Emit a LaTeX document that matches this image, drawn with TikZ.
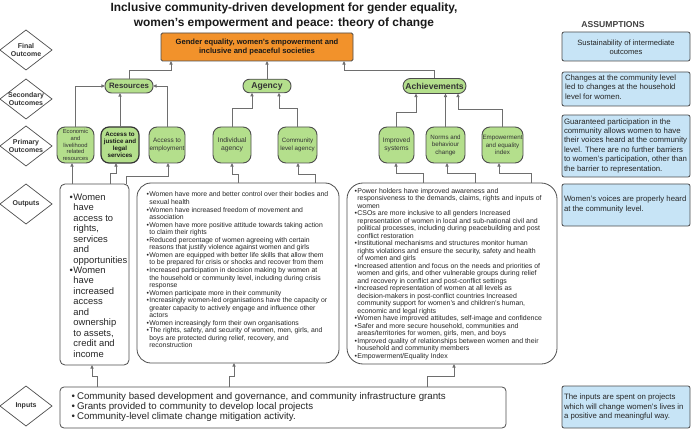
\documentclass[tikz,border=0pt]{standalone}
\usepackage{fontspec}
\setmainfont{Liberation Sans}
\usetikzlibrary{shapes.geometric,arrows.meta}
\definecolor{orangeF}{HTML}{F2922B}
\definecolor{greenF}{HTML}{B4DF8C}
\definecolor{blueF}{HTML}{C7E4F6}
\definecolor{edgeC}{HTML}{4D4D4D}
\definecolor{lineC}{HTML}{6E6E6E}
\definecolor{txtC}{HTML}{333333}
\newcommand\myb{\makebox[0.42em][l]{•}}
\newcommand\myc{\hspace*{0.42em}}
\newcommand\fs[2]{\fontsize{#1}{#2}\selectfont}
\begin{document}
\begin{tikzpicture}[x=1pt,y=-1pt,
  every node/.style={inner sep=0pt, outer sep=0pt},
  sz/.style 2 args={minimum width=#1pt, minimum height=#2pt},
  dia/.style={diamond, draw=edgeC, line width=0.7pt, fill=white, minimum width=52pt, minimum height=40pt, inner sep=0pt},
  dlab/.style={font=\bfseries\fs{7}{8.4}, text=txtC, align=center},
  pill/.style={draw=edgeC, line width=0.9pt, fill=greenF, rounded corners=6.5pt, font=\bfseries\fs{8.6}{10}, text=txtC},
  prim/.style={draw=edgeC, line width=0.9pt, fill=greenF, rounded corners=8pt, align=center, text=txtC},
  outbox/.style={draw=edgeC, line width=0.8pt, fill=white},
  bluebox/.style={draw=edgeC, line width=0.8pt, fill=blueF, rounded corners=2pt},
  btxt/.style={font=\fs{7.8}{9.4}, text=black!85, align=left},
  otxt/.style={anchor=west, align=left, text=black!85},
  arr/.style={draw=lineC, line width=0.8pt, -{Triangle[length=3.6pt,width=3.2pt]}}
]
\useasboundingbox (0,0) rectangle (692,430);

% title
\node[font=\bfseries\fs{11.9}{15.5}, text=black!90, align=center] (title) at (284,16) {Inclusive community-driven development for gender equality,\\women’s empowerment and peace: theory of change};
\node[font=\bfseries\fs{8.6}{10}, text=black!75] (asm) at (613,25) {ASSUMPTIONS};

% diamonds
\node[dia] (dfo) at (26,50) {}; \node[dlab] (lfo) at (dfo) {Final\\Outcome};
\node[dia] (dso) at (26,99) {}; \node[dlab] (lso) at (dso) {Secondary\\Outcomes};
\node[dia] (dpo) at (26,146) {}; \node[dlab] (lpo) at (dpo) {Primary\\Outcomes};
\node[dia] (dop) at (26,204) {}; \node[dlab] (lop) at (dop) {Outputs};
\node[dia] (din) at (26,406) {}; \node[dlab] (lin) at (din) {Inputs};

% final outcome
\node[draw=edgeC, line width=0.9pt, fill=orangeF, rounded corners=1.5pt, sz={192}{28}, align=center, font=\bfseries\fs{7.6}{8.4}, text=black!90] (goal) at (257,47) {Gender equality, women’s empowerment and\\inclusive and peaceful societies};

% secondary
\node[pill, sz={48}{14}, font=\bfseries\fs{7.8}{9}] (res) at (129,86) {Resources};
\node[pill, sz={48}{13.5}] (agc) at (267,86) {Agency};
\node[pill, sz={63}{15}, rounded corners=7.5pt] (ach) at (434.5,86) {Achievements};

% primary
\node[prim, sz={37}{36}, font=\fs{5.8}{6.8}] (econ) at (75.5,145) {Economic\\and\\livelihood\\related\\resources};
\node[prim, sz={38}{36}, font=\bfseries\fs{6.2}{7.2}, text=black!90, line width=1.2pt, draw=black!80] (just) at (120,145) {Access to\\justice and\\legal\\services};
\node[prim, sz={36}{36}, font=\fs{6.4}{7.8}] (empl) at (167,145) {Access to\\employment};
\node[prim, sz={38}{36}, font=\fs{6.8}{8.2}] (indv) at (232,145) {Individual\\agency};
\node[prim, sz={39}{36}, font=\fs{6.2}{7.6}] (comm) at (297.5,145) {Community\\level agency};
\node[prim, sz={35}{36}, font=\fs{6.6}{8}] (imps) at (396.5,145) {Improved\\systems};
\node[prim, sz={39}{36}, font=\fs{6.2}{7.4}] (norm) at (445.5,145) {Norms and\\behaviour\\change};
\node[prim, sz={41}{36}, font=\fs{6.2}{7.4}] (empw) at (502.5,145) {Empowerment\\and equality\\index};

% outputs
\node[outbox, rounded corners=5pt, sz={69}{181}] (out1) at (94.5,274.5) {};
\node[outbox, rounded corners=14pt, sz={202}{180}] (out2) at (238,273) {};
\node[outbox, rounded corners=16pt, sz={210}{181}] (out3) at (452,273.5) {};
\node[outbox, rounded corners=4pt, sz={446}{41}] (inp) at (283,407.5) {};

\node[otxt, font=\fs{9.4}{10.45}] (t1) at (69.5,275.5) {\myb Women\\\myc have\\\myc access to\\\myc rights,\\\myc services\\\myc and\\\myc opportunities\\\myb Women\\\myc have\\\myc increased\\\myc access\\\myc and\\\myc ownership\\\myc to assets,\\\myc credit and\\\myc income};

\node[otxt, font=\fs{6.85}{7.55}] (t2) at (146.5,270) {\myb Women have more and better control over their bodies and\\\myc sexual health\\\myb Women have increased freedom of movement and\\\myc association\\\myb Women have more positive attitude towards taking action\\\myc to claim their rights\\\myb Reduced percentage of women agreeing with certain\\\myc reasons that justify violence against women and girls\\\myb Women are equipped with better life skills that allow them\\\myc to be prepared for crisis or shocks and recover from them\\\myb Increased participation in decision making by women at\\\myc the household or community level, including during crisis\\\myc response\\\myb Women participate more in their community\\\myb Increasingly women-led organisations have the capacity or\\\myc greater capacity to actively engage and influence other\\\myc actors\\\myb Women increasingly form their own organisations\\\myb The rights, safety, and security of women, men, girls, and\\\myc boys are protected during relief, recovery, and\\\myc reconstruction};

\node[otxt, font=\fs{6.95}{7.5}] (t3) at (354.5,274) {\myb Power holders have improved awareness and\\\myc responsiveness to the demands, claims, rights and inputs of\\\myc women\\\myb CSOs are more inclusive to all genders Increased\\\myc representation of women in local and sub-national civil and\\\myc political processes, including during peacebuilding and post\\\myc conflict restoration\\\myb Institutional mechanisms and structures monitor human\\\myc rights violations and ensure the security, safety and health\\\myc of women and girls\\\myb Increased attention and focus on the needs and priorities of\\\myc women and girls, and other vulnerable groups during relief\\\myc and recovery in conflict and post-conflict settings\\\myb Increased representation of women at all levels as\\\myc decision-makers in post-conflict countries Increased\\\myc community support for women’s and children’s human,\\\myc economic and legal rights\\\myb Women have improved attitudes, self-image and confidence\\\myb Safer and more secure household, communities and\\\myc areas/territories for women, girls, men, and boys\\\myb Improved quality of relationships between women and their\\\myc household and community members\\\myb Empowerment/Equality Index};

\node[otxt, font=\fs{9.7}{10}] (t4) at (71.5,406.5) {\myb\hspace{0.15em}Community based development and governance, and community infrastructure grants\\\myb\hspace{0.15em}Grants provided to community to develop local projects\\\myb\hspace{0.15em}Community-level climate change mitigation activity.};

% assumptions
\node[bluebox, sz={128}{29}] (a1) at (626,46.5) {};
\node[btxt, align=center, font=\fs{7.6}{8.8}] (a1t) at (626,47) {Sustainability of intermediate\\outcomes};
\node[bluebox, sz={128}{34}] (a2) at (626,89) {};
\node[btxt, anchor=west] (a2t) at (565,87) {Changes at the community level\\led to changes at the household\\level for women.};
\node[bluebox, sz={128}{62}] (a3) at (626,146) {};
\node[btxt, anchor=west] (a3t) at (564,145.5) {Guaranteed participation in the\\community allows women to have\\their voices heard at the community\\level. There are no further barriers\\to women’s participation, other than\\the barrier to representation.};
\node[bluebox, sz={128}{42}] (a4) at (626,205) {};
\node[btxt, anchor=west] (a4t) at (564,204.5) {Women’s voices are properly heard\\at the community level.};
\node[bluebox, sz={128}{42}] (a5) at (626,407) {};
\node[btxt, anchor=west] (a5t) at (564,407) {The inputs are spent on projects\\which will change women’s lives in\\a positive and meaningful way.};

% secondary -> final
\draw[arr] (res.north) |- (171,70) -- (171,0 |- goal.south);
\draw[arr] (agc.north) -- (agc.north |- goal.south);
\draw[arr] (ach.north) |- (344,70) -- (344,0 |- goal.south);
% primary -> secondary
\draw[arr] (econ.north) |- (res.west);
\draw[arr] (just.north) -- (just.north |- res.south);
\draw[arr] (empl.north) |- (res.east);
\draw[arr] (indv.north) |- (252,108) -- (252,0 |- agc.south);
\draw[arr] (comm.north) |- (279,108) -- (279,0 |- agc.south);
\draw[arr] (imps.north) |- (416,112) -- (416,0 |- ach.south);
\draw[arr] (norm.north) -- (norm.north |- ach.south);
\draw[arr] (empw.north) |- (458,109) -- (458,0 |- ach.south);
% outputs -> primary
\draw[arr] (72,0 |- out1.north) -- (72,0 |- econ.south);
\draw[arr] (110,0 |- out1.north) |- (116,173) -- (116,0 |- just.south);
\draw[arr] (126,0 |- out1.north) |- (168,176) -- (168,0 |- empl.south);
\draw[arr] (238,0 |- out2.north) |- (232,174) -- (232,0 |- indv.south);
\draw[arr] (315,0 |- out2.north) |- (298,174) -- (298,0 |- comm.south);
\draw[arr] (423,0 |- out3.north) |- (396,173) -- (396,0 |- imps.south);
\draw[arr] (475,0 |- out3.north) |- (447,173) -- (447,0 |- norm.south);
\draw[arr] (531,0 |- out3.north) |- (499,173) -- (499,0 |- empw.south);
% inputs -> outputs
\draw[arr] (97,0 |- inp.north) |- (92,376) -- (92,0 |- out1.south);
\draw[arr] (229,0 |- inp.north) |- (234,376) -- (234,0 |- out2.south);
\draw[arr] (427,0 |- inp.north) |- (454,376) -- (454,0 |- out3.south);
\end{tikzpicture}
\end{document}
